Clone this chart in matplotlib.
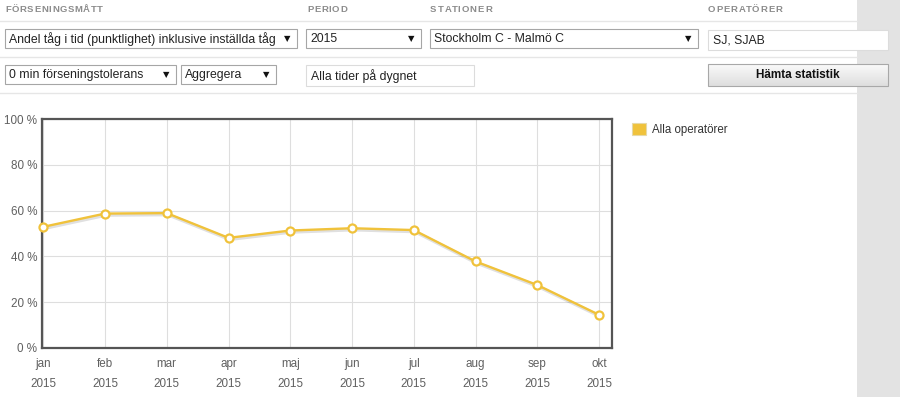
import matplotlib
matplotlib.use('Agg')
import matplotlib.pyplot as plt
from matplotlib.patches import Rectangle, Patch
from matplotlib.colors import LinearSegmentedColormap
from matplotlib.ticker import FixedLocator, FuncFormatter
import matplotlib.transforms as mtransforms
import numpy as np

plt.rcParams['font.family'] = ['Liberation Sans', 'DejaVu Sans']

# chart data
months = ['jan', 'feb', 'mar', 'apr', 'maj', 'jun', 'jul', 'aug', 'sep', 'okt']
year = '2015'
punctuality = [52.9, 58.7, 58.9, 48.1, 51.3, 52.3, 51.5, 37.8, 27.5, 14.5]
y_ticks = [0, 20, 40, 60, 80, 100]
series_name = 'Alla operatörer'

# form texts: (label, left x, right x) in page pixels
headers = [('FÖRSENINGSMÅTT', 5, 103), ('PERIOD', 307, 347),
           ('STATIONER', 430, 492), ('OPERATÖRER', 708, 782)]
selects = [
    ('Andel tåg i tid (punktlighet) inklusive inställda tåg', 5, 29, 292, 19),
    ('2015', 306, 29, 115, 19),
    ('Stockholm C - Malmö C', 430, 29, 268, 19),
    ('0 min förseningstolerans', 5, 65, 171, 19),
    ('Aggregera', 181, 65, 95, 19),
]
inputs = [
    ('SJ, SJAB', 708, 30, 180, 20),
    ('Alla tider på dygnet', 306, 65, 168, 21),
]
button_text = 'Hämta statistik'

W, H = 900, 397
LINE = '#f0c23b'
FS = 8.8

fig = plt.figure(figsize=(W / 100, H / 100), dpi=100)
fig.patch.set_facecolor('white')

# page layer in pixel coordinates
ui = fig.add_axes([0, 0, 1, 1])
ui.set_xlim(0, W)
ui.set_ylim(H, 0)
ui.axis('off')
ui.set_zorder(0)

ui.add_patch(Rectangle((857, 0), W - 857, H, color='#e3e3e3', lw=0))
for yy in [21, 57, 93]:
    ui.plot([0, 857], [yy, yy], color='#e6e6e6', lw=1)

fig.canvas.draw()
renderer = fig.canvas.get_renderer()


def text_width(s, size):
    t = ui.text(0, 0, s, fontsize=size, fontweight='bold')
    w = t.get_window_extent(renderer=renderer).width
    t.remove()
    return w


def spaced_text(x0, x1, y, s, size, color):
    # letter-spaced caps stretched to span x0..x1
    natural = text_width(s, size)
    tracking = (x1 - x0 - natural) / (len(s) - 1)
    for i, ch in enumerate(s):
        xi = x0 + (text_width(s[:i], size) if i else 0) + i * tracking
        ui.text(xi, y, ch, fontsize=size, color=color, va='center', ha='left',
                fontweight='bold')


for label, x0, x1 in headers:
    spaced_text(x0, x1, 9.5, label, 6.8, '#8c8c8c')

for label, x0, y0, w, h in selects:
    ui.add_patch(Rectangle((x0, y0), w, h, fc='white', ec='#a6a6a6', lw=0.8))
    ui.text(x0 + 4, y0 + h / 2 + 0.5, label, fontsize=FS, color='#222222', va='center')
    ui.text(x0 + w - 10, y0 + h / 2, '▼', fontsize=6, color='#111111', va='center',
            ha='center', family=['DejaVu Sans'])

for label, x0, y0, w, h in inputs:
    ui.add_patch(Rectangle((x0, y0), w, h, fc='white', ec='#dcdcdc', lw=0.8))
    ui.text(x0 + 5, y0 + h / 2 + 0.5, label, fontsize=FS, color='#222222', va='center')

# button with a soft vertical gradient
grad = np.linspace(0, 1, 50).reshape(-1, 1)
ui.imshow(grad, extent=(708, 888, 86, 64),
          cmap=LinearSegmentedColormap.from_list('btn', ['#fafafa', '#dedede']),
          aspect='auto', zorder=1)
ui.add_patch(Rectangle((708, 64), 180, 22, fill=False, ec='#a8a8a8', lw=0.8, zorder=2))
ui.text(798, 75.5, button_text, fontsize=8.5, fontweight='bold', color='#111111',
        ha='center', va='center', zorder=3)
ui.set_xlim(0, W)
ui.set_ylim(H, 0)

# chart
left, right, top, bottom = 42, 612, 119, 348
ax = fig.add_axes([left / W, 1 - bottom / H, (right - left) / W, (bottom - top) / H])
ax.set_zorder(2)
ax.set_facecolor('white')
x = np.arange(len(months))

shadow = mtransforms.offset_copy(ax.transData, fig=fig, x=1, y=-1.5, units='dots')
ax.plot(x, punctuality, color='black', alpha=0.12, lw=2.5, transform=shadow,
        zorder=2, clip_on=False)
ax.plot(x, punctuality, color=LINE, lw=1.7, marker='o', ms=5.8, mfc='white',
        mec=LINE, mew=1.6, zorder=3, clip_on=False)

ax.set_xlim(-0.02, 9.21)
ax.set_ylim(0, 100)
ax.xaxis.set_major_locator(FixedLocator(x))
ax.set_xticklabels([m + '\n' + year for m in months])
ax.yaxis.set_major_locator(FixedLocator(y_ticks))
ax.yaxis.set_major_formatter(FuncFormatter(lambda v, p: '%d %%' % v))
ax.grid(True, color='#dedede', lw=0.8)
ax.set_axisbelow(True)
for sp in ax.spines.values():
    sp.set_color('#555555')
    sp.set_linewidth(1.6)
ax.tick_params(length=0, labelsize=8.4, colors='#606060')
ax.tick_params(axis='y', pad=3.5)
ax.tick_params(axis='x', pad=7.5)
for t in ax.get_xticklabels():
    t.set_linespacing(1.8)

fig.legend(handles=[Patch(fc=LINE, ec='#e6d9a8', lw=0.8, label=series_name)],
           loc='upper left', bbox_to_anchor=(622 / W, 1 - 113 / H), frameon=False,
           fontsize=8.3, handlelength=1.2, handleheight=1.2, handletextpad=0.5,
           labelcolor='#333333')

fig.savefig('out.png', dpi=100)
